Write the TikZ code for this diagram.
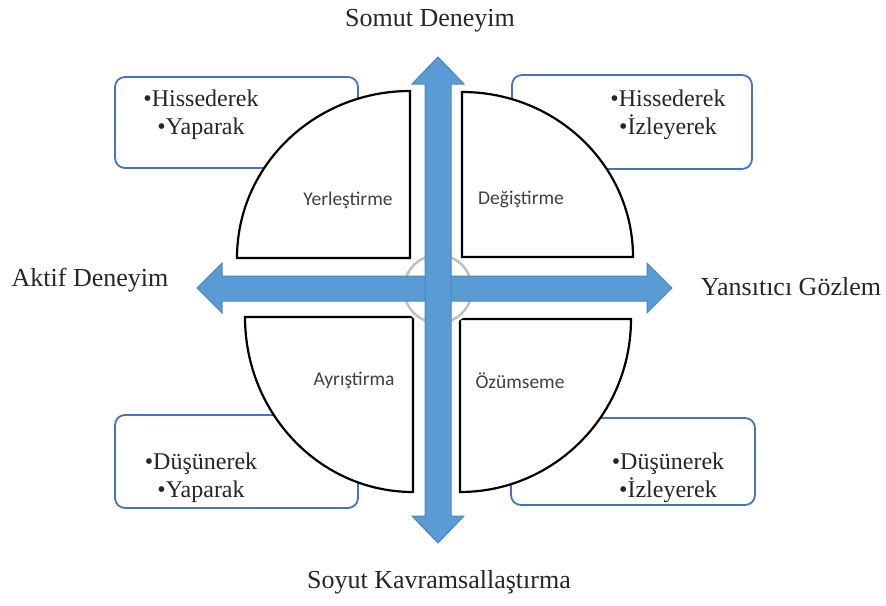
\documentclass[tikz,border=0pt]{standalone}
\usepackage{fontspec}
\setmainfont{Liberation Serif}
\newfontfamily\calibri{Carlito}
\usepackage{xcolor}
\usepackage{tikz}

\definecolor{arrowblue}{HTML}{5B9BD5}
\definecolor{arrowedge}{HTML}{4A86C0}
\definecolor{boxblue}{HTML}{4472C4}
\definecolor{ringgray}{HTML}{BFBFBF}
\definecolor{labelgray}{HTML}{404040}

\tikzset{
  infobox/.style={draw=boxblue, line width=1.8pt, rounded corners=10pt, fill=white},
  quarter/.style={draw=black, line width=2.2pt, fill=white},
  bigarrow/.style={fill=arrowblue, draw=arrowedge, line width=1pt, line join=miter},
  axislabel/.style={font=\fontsize{26}{30}\selectfont, text=black!85},
  steplabel/.style={font=\calibri\fontsize{19.5}{22}\selectfont, text=labelgray},
  itemlist/.style={font=\fontsize{24}{28}\selectfont, align=center, text=black!85}
}

\begin{document}
\begin{tikzpicture}[x=1pt, y=-1pt]
  \useasboundingbox (0,0) rectangle (886,605);

  \draw[infobox] (115,77) rectangle (358,168);
  \draw[infobox] (512,75) rectangle (752,169);
  \draw[infobox] (115,415) rectangle (358,508);
  \draw[infobox] (511,418) rectangle (755,505);

  \node[itemlist] (feeldo) at (201,115) {•Hissederek\\•Yaparak};
  \node[itemlist] (feelwatch) at (668,115) {•Hissederek\\•İzleyerek};
  \node[itemlist] (thinkdo) at (201,478) {•Düşünerek\\•Yaparak};
  \node[itemlist] (thinkwatch) at (668,478) {•Düşünerek\\•İzleyerek};

  \draw[quarter] (410,258) -- (237,258) arc[start angle=180, end angle=270, x radius=173, y radius=167] -- cycle;
  \draw[quarter] (462,257) -- (462,92) arc[start angle=270, end angle=360, x radius=171, y radius=165] -- cycle;
  \draw[quarter] (413,317) -- (245,317) arc[start angle=180, end angle=90, x radius=168, y radius=175] -- cycle;
  \draw[quarter] (460,319) -- (631,319) arc[start angle=0, end angle=90, x radius=171, y radius=173] -- cycle;

  \node[steplabel] (accom) at (348,200) {Yerleştirme};
  \node[steplabel] (diverg) at (521,199) {Değiştirme};
  \node[steplabel] (converg) at (354,380) {Ayrıştirma};
  \node[steplabel] (assim) at (520,381) {Özümseme};

  \fill[white] (438,289) circle[radius=38];
  \draw[ringgray, line width=2.5pt] (438,289) circle[radius=34];

  \draw[bigarrow] (197,288) -- (222,263) -- (222,276) -- (647,276) -- (647,263) -- (672,288)
    -- (647,313) -- (647,301) -- (222,301) -- (222,313) -- cycle;
  \draw[bigarrow] (438,57) -- (464,84) -- (451,84) -- (451,516) -- (464,516) -- (438,543)
    -- (412,516) -- (425,516) -- (425,84) -- (412,84) -- cycle;

  \node[axislabel] (concrete) at (430,21) {Somut Deneyim};
  \node[axislabel] (abstract) at (439,582) {Soyut Kavramsallaştırma};
  \node[axislabel] (active) at (90,280) {Aktif Deneyim};
  \node[axislabel] (reflect) at (791,287) {Yansıtıcı Gözlem};
\end{tikzpicture}
\end{document}
